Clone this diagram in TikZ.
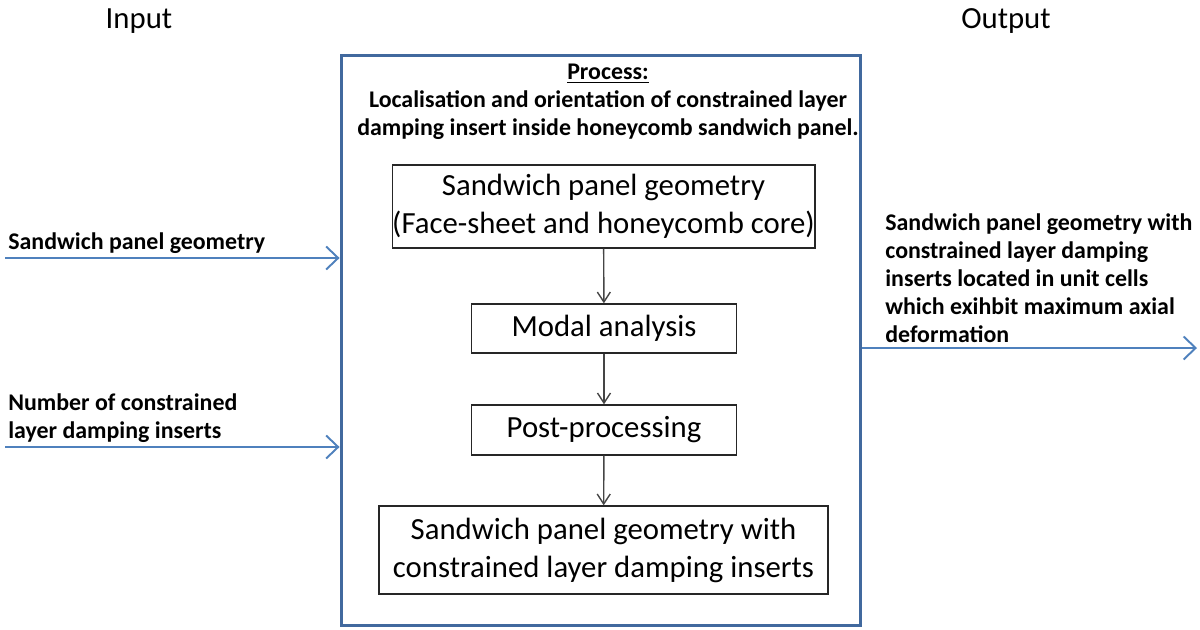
\documentclass[tikz,border=0pt]{standalone}
\usepackage{fontspec}
\setmainfont{Carlito}
\usetikzlibrary{arrows.meta,positioning}
\definecolor{frameblue}{HTML}{41699E}
\definecolor{arrowblue}{HTML}{4F81BD}
\definecolor{stepgray}{HTML}{454545}
\begin{document}
\begin{tikzpicture}[
                x=0.02cm, y=-0.02cm,
                every node/.style={inner sep=0pt},
                bigtext/.style={font=\fontsize{17.5}{21.6}\selectfont},
                lbl/.style={font=\bfseries\fontsize{13.6}{15.9}\selectfont, align=left},
                stepbox/.style={draw=black!85, line width=0.8pt, align=center, bigtext},
                flow/.style={draw=stepgray, line width=0.8pt, -{Straight Barb[length=2mm,width=2.6mm]}},
                io/.style={draw=arrowblue, line width=1.1pt, -{Straight Barb[length=2.4mm,width=4.6mm]}}
            ]

            \useasboundingbox (0,0) rectangle (1200,629);

            \node[bigtext, anchor=base] (inhead) at (139,28) {Input};
            \node[bigtext, anchor=base] (outhead) at (1006,28) {Output};

            \node[draw=frameblue, line width=1.7pt, minimum width=10.4cm, minimum height=11.42cm] (process) at (601,340.5) {};

            \node[lbl, align=center, anchor=north] (ptitle) at (608,64)
                {\underline{Process:}\\ Localisation and orientation of constrained layer\\ damping insert inside honeycomb sandwich panel.};

            \node[stepbox, minimum width=6.78cm, minimum height=1.66cm] (geom) at (603.5,206.5)
                {Sandwich panel geometry\\ (Face-sheet and honeycomb core)};
            \node[stepbox, minimum width=5.3cm, minimum height=0.98cm] (modal) at (604,328.5) {Modal analysis};
            \node[stepbox, minimum width=5.3cm, minimum height=1.0cm] (post) at (604,430) {Post-processing};
            \node[stepbox, minimum width=8.98cm, minimum height=1.76cm] (result) at (603.5,550)
                {Sandwich panel geometry with\\ constrained layer damping inserts};

            \draw[flow] (geom) -- (modal);
            \draw[flow] (modal) -- (post);
            \draw[flow] (post) -- (result);

            \coordinate (in1) at (5,258);
            \coordinate (in2) at (5,447);
            \coordinate (out1) at (1197,348);

            \draw[io] (in1) -- (in1 -| process.west);
            \draw[io] (in2) -- (in2 -| process.west);
            \draw[io] (out1 -| process.east) -- (out1);

            \node[lbl, anchor=base west] (inlbl1) at (8,249) {Sandwich panel geometry};
            \node[lbl, anchor=south west] (inlbl2) at (8,443) {Number of constrained\\ layer damping inserts};
            \node[lbl, anchor=south west] (outlbl) at (885,343)
                {Sandwich panel geometry with\\ constrained layer damping\\ inserts located in unit cells\\ which exihbit maximum axial\\ deformation};

        \end{tikzpicture}
\end{document}
